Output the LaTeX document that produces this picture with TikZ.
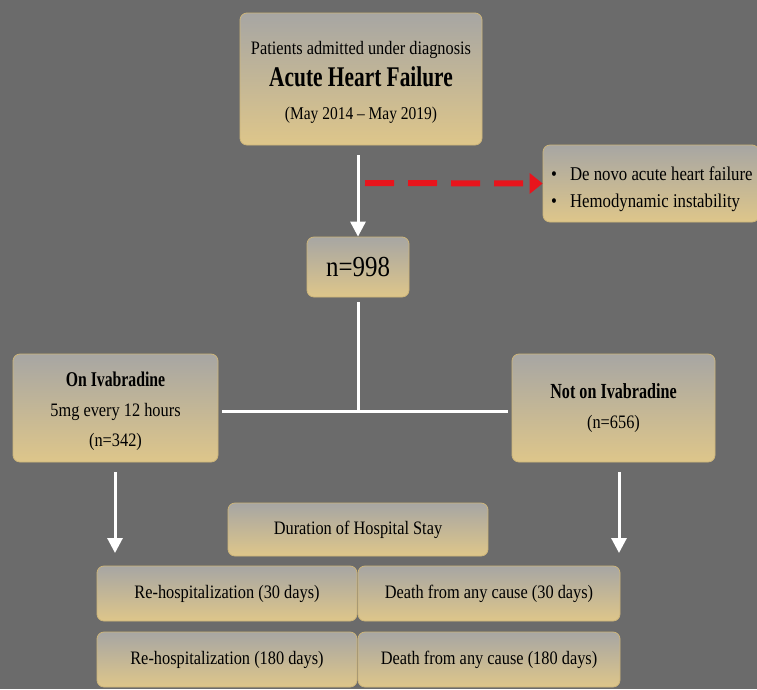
\documentclass[tikz,border=0pt]{standalone}
\usepackage{fontspec}
\setmainfont{Liberation Serif}[FakeStretch=0.86]
\newfontfamily\bfcond{Liberation Serif Bold}[FakeStretch=0.75]
\usetikzlibrary{arrows.meta}
\definecolor{bg}{HTML}{6B6B6B}
\definecolor{boxtop}{HTML}{A7A6A3}
\definecolor{boxbot}{HTML}{DEC68A}
\definecolor{boxline}{HTML}{CDB57A}
\definecolor{arrred}{HTML}{E8141C}
\tikzset{
  fbox/.style={draw=boxline, line width=0.8pt, rounded corners=7pt,
    top color=boxtop, bottom color=boxbot, align=center, inner sep=0pt,
    text=black, font=\fontsize{19}{28}\selectfont},
  boxtext/.style={align=center, inner sep=0pt, text=black},
  whline/.style={draw=white, line width=3pt},
  wharrow/.style={whline, -{Triangle[length=15pt,width=15pt]}},
  redarrow/.style={draw=arrred, line width=6pt, dash pattern=on 29pt off 14pt,
    -{Triangle[length=13pt,width=20pt]}}
}
\begin{document}
\begin{tikzpicture}[x=1pt,y=-1pt]
\fill[bg] (0,0) rectangle (757,689);
\useasboundingbox (0,0) rectangle (757,689);

% boxes
\node[fbox, minimum width=242pt, minimum height=132pt] (top) at (361,79) {};
\node[boxtext, font=\fontsize{19}{32}\selectfont] (toptxt) at (361,82)
  {Patients admitted under diagnosis\\
   {\bfcond\fontsize{28.5}{32}\selectfont Acute Heart Failure}\\[1pt]
   {\fontsize{18}{32}\selectfont (May 2014 -- May 2019)}};

\node[fbox, minimum width=216pt, minimum height=77pt] (excl) at (651,183.5) {};
\node[boxtext, anchor=west, align=flush left, font=\fontsize{19.5}{27}\selectfont]
  (excltxt) at (551,189)
  {\textbullet\hspace{13pt}De novo acute heart failure\\
   \textbullet\hspace{13pt}Hemodynamic instability};

\node[fbox, minimum width=102pt, minimum height=60pt,
      font=\fontsize{29}{32}\selectfont] (n998) at (358,267) {n=998};

\node[fbox, minimum width=205pt, minimum height=108pt] (onI) at (115.5,408) {};
\node[boxtext, font=\fontsize{19}{30}\selectfont] (onItxt) at (115.5,411)
  {{\bfcond\fontsize{21}{30}\selectfont On Ivabradine}\\
   5mg every 12 hours\\
   (n=342)};

\node[fbox, minimum width=203pt, minimum height=108pt,
      font=\fontsize{19}{30}\selectfont] (notI) at (613.5,408)
  {{\bfcond\fontsize{21.5}{30}\selectfont Not on Ivabradine}\\
   (n=656)};

\node[fbox, minimum width=260pt, minimum height=53pt] (dur) at (358,529.5)
  {Duration of Hospital Stay};

\node[fbox, minimum width=260pt, minimum height=55pt] (rh30) at (227,593.5)
  {Re-hospitalization (30 days)};
\node[fbox, minimum width=262pt, minimum height=55pt] (d30) at (489,593.5)
  {Death from any cause (30 days)};
\node[fbox, minimum width=260pt, minimum height=55pt] (rh180) at (227,659.5)
  {Re-hospitalization (180 days)};
\node[fbox, minimum width=262pt, minimum height=55pt] (d180) at (489,659.5)
  {Death from any cause (180 days)};

% connectors
\coordinate (a0) at (358,155);
\coordinate (rs) at (365,183);
\coordinate (v0) at (358,302);
\coordinate (jn) at (358,411);
\coordinate (hl) at (222,411);
\coordinate (hr) at (508,411);
\coordinate (la0) at (115,472);
\coordinate (la1) at (115,553);
\coordinate (ra0) at (619,472);
\coordinate (ra1) at (619,553);

\draw[wharrow] (a0) -- (n998.north);
\draw[redarrow] (rs) -- (excl.west);
\draw[whline] (v0) -- (jn);
\draw[whline] (hl) -- (hr);
\draw[wharrow] (la0) -- (la1);
\draw[wharrow] (ra0) -- (ra1);
\end{tikzpicture}
\end{document}
